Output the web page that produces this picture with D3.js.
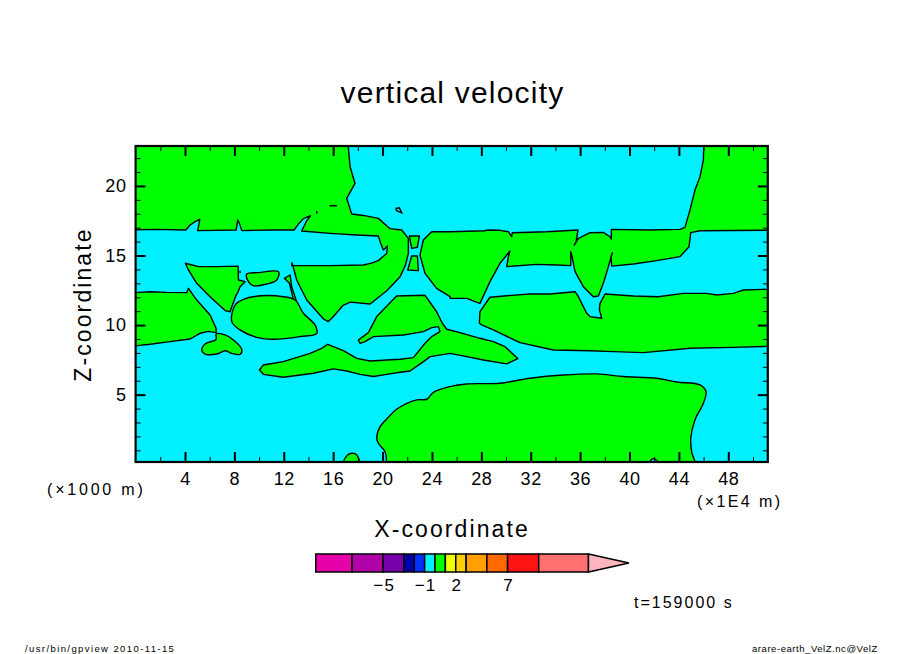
<!DOCTYPE html>
<html><head><meta charset="utf-8">
<script src="https://cdn.jsdelivr.net/npm/d3@7"></script>
<style>html,body{margin:0;padding:0;background:#fff}svg{display:block}text{font-family:"Liberation Sans",sans-serif;fill:#000}</style>
</head><body><svg id="c" width="904" height="654"></svg>
<script>
const xMajor=[4,8,12,16,20,24,28,32,36,40,44,48];
const xMinor=[2,6,10,14,18,22,26,30,34,38,42,46,50];
const zMajor=[5,10,15,20];
const zMinor=[1,2,3,4,6,7,8,9,11,12,13,14,16,17,18,19,21,22];
const topLeftRegion=[[-1,16.83],[1.71,16.88],[4.06,16.83],[4.41,17.19],[4.82,17.43],[5.2,17.6],[5.03,16.79],[8.14,16.83],[8.27,17.55],[8.41,17.31],[8.6,16.79],[10.89,16.83],[12.83,16.83],[13.18,17.26],[13.59,17.65],[14.16,17.86],[13.86,17.5],[13.45,16.76],[15.75,16.59],[17.91,16.47],[19.66,16.4],[19.85,15.87],[20.07,15.4],[20.39,15.68],[20.34,15.15],[19.95,14.85],[19.66,14.63],[19.1,14.45],[18.45,14.32],[15.75,14.27],[12.64,14.27],[12.67,14.48],[13.05,13.24],[13.86,11.8],[15.2,10.45],[15.61,10.25],[16,10.6],[16.83,11.44],[17.4,11.65],[18.99,11.52],[20.34,12.47],[21.42,13.48],[21.85,14.3],[22.09,15.15],[22.09,16.23],[21.55,16.83],[20.61,16.93],[19.66,17.67],[18.45,17.88],[17.5,17.98],[17.1,19.1],[17.77,20.18],[17.37,21.38],[17.1,24],[-1,24]];
const leftTriangle=[[4.03,14.44],[5.09,14.2],[6.57,14.2],[8.3,14.24],[8.33,13.24],[8.87,13.12],[8.46,12.76],[8.27,12.33],[8.14,12.16],[7.65,10.96],[7.25,11.04],[6.03,12.04],[4.95,13],[4.28,13.96]];
const smallLens=[[9,13.67],[9.95,13.77],[11.57,13.84],[11.43,13.24],[10.62,12.95],[9.54,12.83],[9.14,13.12]];
const sliver=[[12.05,13.36],[12.51,13.6],[12.64,12.76],[13,11.8],[12.78,11.85],[12.46,13]];
const middleLens=[[7.79,10.25],[8.06,11.44],[8.73,11.85],[10.22,12.11],[11.97,12.04],[12.92,11.8],[13.59,10.85],[14.53,10.01],[14.67,9.41],[13.32,9.17],[11.16,8.98],[9.81,9.12],[8.46,9.65]];
const leftBand=[[-1,12.28],[1.17,12.4],[2.52,12.35],[4.14,12.33],[4.28,12.64],[4.95,11.8],[6.03,10.73],[6.52,9.77],[6.52,9.46],[5.9,9.55],[5.22,9.41],[4.41,9],[2.79,8.81],[1.17,8.62],[-1,8.42]];
const smallBlob=[[6.52,9.36],[7.25,9.29],[7.92,8.93],[8.6,8.26],[8.46,7.9],[7.79,7.97],[7.25,8.16],[6.57,7.92],[5.63,7.92],[5.36,8.21],[5.63,8.64],[6.52,8.98]];
const centralSpindle=[[18.04,8.93],[18.85,9.46],[19.53,10.61],[21.14,12.09],[23.44,12.14],[24.38,10.96],[24.84,10.13],[25.2,9.7],[26.27,9.46],[27.89,9.05],[28.97,8.81],[29.92,8.45],[30.95,7.59],[30.06,7.21],[28.17,7.49],[26.82,7.73],[25.47,7.97],[23.85,7.73],[23.31,7.37],[22.23,6.7],[21.42,6.61],[20.34,6.46],[19.26,6.3],[18.18,6.46],[17.1,6.7],[16.02,6.85],[14.4,6.54],[11.97,6.25],[10.35,6.46],[10.03,6.77],[10.35,7.13],[11.97,7.37],[14.13,7.97],[15.07,8.33],[15.56,8.62],[16.83,8.16],[17.91,7.61],[18.99,7.42],[21.42,7.54],[22.5,7.66],[23.44,8.69],[23.98,9.17],[24.65,9.53],[24.52,9.89],[23.98,9.82],[23.31,9.53],[21.69,9.29],[19.26,9.17],[18.58,8.81],[18.18,8.69]];
const hourglassTop=[[22.17,16.4],[22.98,16.4],[22.82,15.59],[22.36,15.51]];
const hourglassBottom=[[22.36,14.97],[22.82,14.97],[22.9,13.91],[22.04,13.96]];
const rightRegion=[[23.03,15.03],[23.3,16.11],[23.98,16.71],[25.47,16.71],[28.3,16.78],[28.44,16.83],[29.51,16.81],[30.19,16.71],[30.46,16.35],[30.51,16.64],[33.29,16.71],[35.83,16.83],[35.67,15.99],[35.53,15.75],[35.86,16.23],[36.8,16.64],[37.88,16.66],[38.42,16.35],[38.53,16.18],[38.53,16.88],[41.66,16.83],[44.09,16.88],[44.49,17.02],[44.9,18.27],[45.3,19.7],[45.71,20.66],[45.98,21.86],[46.06,24],[52.5,24],[52.5,16.83],[45.71,16.78],[44.96,16.64],[44.82,15.63],[44.09,14.92],[42.2,14.63],[40.31,14.39],[38.56,14.24],[38.5,14.92],[38.61,15.2],[38.29,14.2],[37.88,13],[37.48,12.09],[37.07,12.04],[36.26,12.76],[35.59,13.84],[35.32,15.03],[35.24,15.27],[35.24,14.27],[34.1,14.32],[32.48,14.36],[30.06,14.2],[30.19,14.92],[30.32,15.32],[29.51,14.44],[28.7,13.12],[27.89,11.56],[27.49,11.68],[26.82,11.92],[25.47,11.92],[25.47,12.04],[24.38,12.64],[23.44,13.72]];
const lowerRightBand=[[27.84,10.13],[27.89,10.96],[28.7,12],[30.06,12.11],[31.95,12.23],[33.56,12.23],[35.59,12.4],[35.86,12.04],[36.53,10.85],[36.8,10.61],[37.75,10.49],[37.56,11.09],[37.61,11.56],[38.02,12.23],[40.31,12.09],[42.33,12.04],[44.36,12.28],[46.25,12.28],[47.06,12.16],[48.41,12.28],[49.22,12.52],[50.97,12.57],[52.5,12.4],[52.5,8.5],[48.41,8.4],[44.9,8.33],[41.12,8.02],[38.69,8.09],[36.8,8.16],[33.83,8.21],[31.13,8.74],[28.97,9.65],[28.03,10.01]];
const bottomHump=[[20.7,-0.5],[20.2,0.91],[19.66,1.51],[19.53,1.87],[19.8,2.7],[20.47,3.37],[21.14,3.95],[22.77,4.62],[23.58,4.67],[24.12,5.17],[25.47,5.58],[26.82,5.77],[29.51,5.82],[31.95,6.18],[34.64,6.41],[37.34,6.49],[39.5,6.3],[42.2,6.18],[43.82,5.91],[45.71,5.7],[46.2,5.22],[45.98,4.38],[45.3,3.18],[44.96,1.87],[45.03,0.91],[45.4,-0.5],[42.5,-0.5],[42.42,0],[41.93,0.4],[41.53,0],[41.4,-0.5]];
const bottomBump=[[16.7,-0.4],[17.1,0.6],[17.5,0.79],[17.91,0.67],[18.2,-0.4]];
const sharpRegions=[topLeftRegion,leftTriangle,sliver,leftBand,centralSpindle,hourglassTop,hourglassBottom,rightRegion,lowerRightBand];
const roundRegions=[smallLens,middleLens,smallBlob,bottomHump,bottomBump];
const tinyMarks=[[[15.7,18.58],[16.3,18.58]],[[14.67,18.2],[14.67,18.0]],[[8.46,13.9],[8.46,13.75]],[[21.07,18.38],[21.36,18.43],[21.55,18.08],[21.14,18.22],[21.07,18.38]]];
const levels=[-11.5,-8,-5,-3,-2,-1,0,1,2,3,5,7,10,14.8];
const levelColors=["#e600aa","#b000a8","#7800a8","#0000aa","#0032ff","#00f0ff","#00ff00","#f0ff00","#ffd000","#ff9f00","#ff6a00","#ff1414","#ff7070"];
const arrowTip=18.7, arrowColor="#ffb4c0";
const levelLabels=[-5,-1,2,7];
const xDomain=[0,51.2], zDomain=[0.16,22.87];

const svg=d3.select("#c");
const x=d3.scaleLinear().domain(xDomain).range([135.6,767.8]);
const y=d3.scaleLinear().domain(zDomain).range([462,146]);
const defs=svg.append("defs");
defs.append("clipPath").attr("id","pc").append("rect").attr("x",x(0)).attr("y",y(zDomain[1])).attr("width",x(51.2)-x(0)).attr("height",y(zDomain[0])-y(zDomain[1]));
const plot=svg.append("g").attr("clip-path","url(#pc)");
plot.append("rect").attr("x",x(0)).attr("y",y(zDomain[1])).attr("width",x(51.2)-x(0)).attr("height",y(zDomain[0])-y(zDomain[1])).attr("fill",levelColors[5]);
const line=d3.line().x(d=>x(d[0])).y(d=>y(d[1]));
const smooth=d3.line().x(d=>x(d[0])).y(d=>y(d[1])).curve(d3.curveCatmullRomClosed.alpha(0.5));
function regions(cls,data,gen){
  plot.selectAll("path."+cls).data(data).join("path").attr("class",cls).attr("d",gen).attr("fill",levelColors[6]).attr("stroke","#000").attr("stroke-width",1.4).attr("stroke-linejoin","round");
}
regions("r",sharpRegions,d=>line(d)+"Z");
regions("s",roundRegions,d=>smooth(d));
plot.selectAll("path.t").data(tinyMarks).join("path").attr("class","t").attr("d",line).attr("fill","none").attr("stroke","#000").attr("stroke-width",1.4);

function ticks(axis,vals,size,w,labels){
  const a=axis.tickValues(vals).tickSizeInner(-size).tickSizeOuter(0).tickPadding(size+8);
  if(!labels)a.tickFormat("");
  return g=>{g.call(a);g.select(".domain").remove();g.selectAll("line").attr("stroke","#000").attr("stroke-width",w);
    g.selectAll("text").attr("font-size",18).attr("fill","#000").style("font-family",'"Liberation Sans",sans-serif').style("letter-spacing","0.6px");};
}
const B=y(zDomain[0]),T=y(zDomain[1]),L=x(0),R=x(51.2);
svg.append("g").attr("transform",`translate(0,${B})`).call(ticks(d3.axisBottom(x),xMinor,5,1,false));
svg.append("g").attr("transform",`translate(0,${T})`).call(ticks(d3.axisTop(x),xMinor,5,1,false));
svg.append("g").attr("transform",`translate(${L},0)`).call(ticks(d3.axisLeft(y),zMinor,5,1,false));
svg.append("g").attr("transform",`translate(${R},0)`).call(ticks(d3.axisRight(y),zMinor,5,1,false));
svg.append("g").attr("transform",`translate(0,${T})`).call(ticks(d3.axisTop(x),xMajor,10,2,false));
svg.append("g").attr("transform",`translate(${R},0)`).call(ticks(d3.axisRight(y),zMajor,10,2,false));
const xa=svg.append("g").attr("transform",`translate(0,${B})`).call(ticks(d3.axisBottom(x),xMajor,10,2,true));
xa.selectAll("text").attr("y",10);
const ya=svg.append("g").attr("transform",`translate(${L},0)`).call(ticks(d3.axisLeft(y),zMajor,10,2,true));
ya.selectAll("text").attr("x",-9);
svg.append("rect").attr("x",L).attr("y",T).attr("width",R-L).attr("height",B-T).attr("fill","none").attr("stroke","#000").attr("stroke-width",2.2);

function t(s,px,py,size,anchor,ls,rot){
  const e=svg.append("text").text(s).attr("x",px).attr("y",py).attr("font-size",size).attr("text-anchor",anchor||"middle").style("letter-spacing",(ls||0)+"px");
  if(rot)e.attr("transform",`rotate(${rot} ${px} ${py})`);
  return e;
}
t("vertical velocity",452.5,103,30,"middle",1.2);
t("X-coordinate",452,537,23,"middle",2.1);
t("Z-coordinate",91,304.5,23,"middle",2.1,-90);
t("(×1000 m)",47,495,16,"start",2.8);
t("(×1E4 m)",697,507,16,"start",2.4);
t("t=159000 s",634,608,16,"start",2);
t("/usr/bin/gpview   2010-11-15",25,652,9.5,"start",1.4);
t("arare-earth_VelZ.nc@VelZ",752,652,9.5,"start",0.55);

const c=d3.scaleLinear().domain([0,10]).range([435,538.7]);
const cy0=554,cy1=572;
const cells=d3.pairs(levels);
svg.selectAll("rect.cell").data(cells).join("rect").attr("class","cell").attr("x",d=>c(d[0])).attr("y",cy0).attr("width",d=>c(d[1])-c(d[0])).attr("height",cy1-cy0).attr("fill",(d,i)=>levelColors[i]).attr("stroke","#000").attr("stroke-width",1.5);
const last=levels[levels.length-1];
svg.append("path").attr("d",d3.line()([[c(last),cy0],[c(arrowTip),(cy0+cy1)/2],[c(last),cy1]])+"Z").attr("fill",arrowColor).attr("stroke","#000").attr("stroke-width",1.5);
svg.selectAll("text.cl").data(levelLabels).join("text").attr("class","cl").attr("x",d=>c(d)+1).attr("y",591).attr("text-anchor","middle").attr("font-size",17).style("letter-spacing","1.2px").text(d=>d<0?"−"+(-d):d);
</script></body></html>
